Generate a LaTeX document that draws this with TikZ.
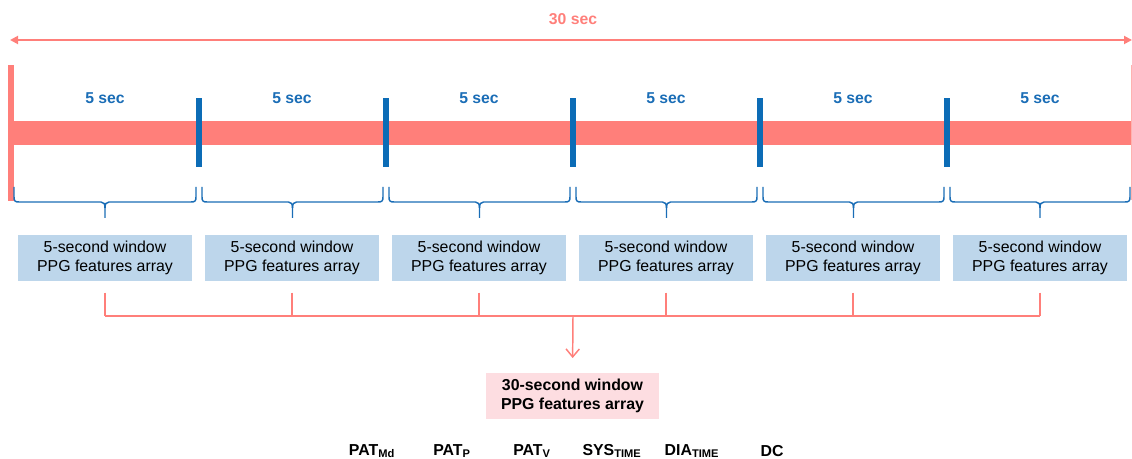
\documentclass[tikz,border=0pt]{standalone}
\usepackage{fontspec}
\setmainfont{Liberation Sans}
\usetikzlibrary{arrows.meta,calc}
\definecolor{salmon}{HTML}{FF7F7A}
\definecolor{secblue}{HTML}{1A6DB6}
\definecolor{markblue}{HTML}{0C6CB6}
\definecolor{winfill}{HTML}{BDD6EB}
\definecolor{sumfill}{HTML}{FDDDE1}
\tikzset{
  px/.style={x=0.75pt,y=-0.75pt},
  seclabel/.style={font=\fontsize{11.8}{13}\selectfont\bfseries,text=secblue,inner sep=0pt},
  winbox/.style={fill=winfill,minimum width=130.5pt,minimum height=34.5pt,align=center,
    inner sep=0pt,font=\fontsize{11.9}{14.5}\selectfont},
  sumbox/.style={fill=sumfill,minimum width=130pt,minimum height=34.5pt,align=center,
    inner sep=0pt,font=\fontsize{11.9}{14.5}\selectfont\bfseries},
  feat/.style={font=\fontsize{11.9}{13}\selectfont\bfseries,inner sep=0pt},
  marker/.style={fill=markblue,minimum width=4.5pt,minimum height=51.75pt,inner sep=0pt},
  brc/.style={draw=secblue,line width=1.1pt,line join=round},
  link/.style={draw=salmon,line width=1.1pt},
}
% curly brace opening downward between x=#1 and x=#2
\newcommand\winbrace[2]{%
  \draw[brc] (#1,187) -- (#1,197) .. controls (#1,201) and (#1+1,202) .. (#1+5,202)
    -- ({(#1+#2)/2-4},202) .. controls ({(#1+#2)/2-1},202) and ({(#1+#2)/2},204) .. ({(#1+#2)/2},208)
    -- ({(#1+#2)/2},218);
  \draw[brc] ({(#1+#2)/2},208) .. controls ({(#1+#2)/2},204) and ({(#1+#2)/2+1},202) .. ({(#1+#2)/2+4},202)
    -- (#2-5,202) .. controls (#2-1,202) and (#2,201) .. (#2,197) -- (#2,187);}
\begin{document}
\begin{tikzpicture}[px]
\useasboundingbox (0,0) rectangle (1132,459);

% overall span
\node[font=\fontsize{11.8}{13}\selectfont\bfseries,text=salmon,inner sep=0pt] (total) at (573,19) {30 sec};
\coordinate (spanL) at (10,40);
\coordinate (spanR) at (1132,40);
\draw[salmon,line width=1.4pt,{Triangle[length=6pt,width=6pt]}-{Triangle[length=6pt,width=6pt]}] (spanL) -- (spanR);

% time band
\fill[salmon] (14,121) rectangle (1132,145);
\fill[salmon] (8,65) rectangle (14,201);
\draw[salmon!60,line width=0.6pt] (1131.5,65) -- (1131.5,200);

% 5-second markers and labels
\foreach \i/\x in {1/199,2/386,3/573,4/760,5/947}
  \node[marker] (m\i) at (\x,132.5) {};
\foreach \i/\x in {1/105,2/292,3/479,4/666,5/853,6/1040}
  \node[seclabel] (s\i) at (\x,98) {5 sec};

% braces below each segment
\winbrace{14}{196}
\winbrace{202}{383}
\winbrace{389}{570}
\winbrace{576}{757}
\winbrace{763}{944}
\winbrace{950}{1130}

% per-window feature arrays
\foreach \i/\x in {1/105,2/292,3/479,4/666,5/853,6/1040}
  \node[winbox] (b\i) at (\x,258) {5-second window\\PPG features array};

% merge into the 30-second array
\coordinate (hubL) at (105,316);
\coordinate (hubR) at (1040,316);
\coordinate (hub) at (573,316);
\draw[link] (hubL) -- (hubR);
\foreach \i in {1,...,6}
  \draw[link] ([yshift=-8.5pt]b\i.south) -- (b\i.south |- hubL);

\node[sumbox] (sum) at (572.5,396) {30-second window\\PPG features array};
\draw[link,-{Straight Barb[length=6pt,width=10pt]},shorten >=11pt] (hub) -- (sum.north);

% feature names
\node[feat] (f1) at (372,451) {PAT\textsubscript{Md}};
\node[feat] (f2) at (452,451) {PAT\textsubscript{P}};
\node[feat] (f3) at (532,451) {PAT\textsubscript{V}};
\node[feat] (f4) at (612,451) {SYS\textsubscript{TIME}};
\node[feat] (f5) at (692,451) {DIA\textsubscript{TIME}};
\node[feat] (f6) at (772,451) {DC};
\end{tikzpicture}
\end{document}
